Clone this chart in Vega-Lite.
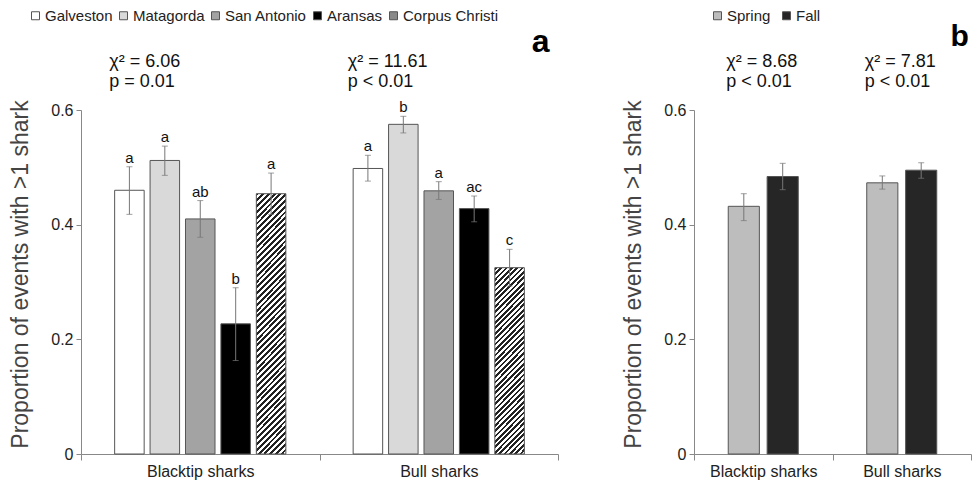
{
  "$schema": "https://vega.github.io/schema/vega-lite/v6.json",
  "padding": {"left": 9, "top": 8, "right": 0, "bottom": 2},
  "background": "white",
  "config": {
    "font": "Liberation Sans",
    "view": {"stroke": null},
    "axis": {"grid": false, "domainColor": "#888", "tickColor": "#888", "labelColor": "#222", "titleColor": "#444", "labelFontSize": 16, "titleFontSize": 23, "titleFontWeight": "normal"},
    "legend": {"orient": "none", "direction": "horizontal", "symbolType": "square", "symbolSize": 64, "symbolStrokeColor": "#555", "symbolStrokeWidth": 1, "labelFontSize": 15, "labelColor": "#222", "labelOffset": 2, "padding": 0}
  },
  "datasets": {
    "bays": [
      {"species": "Blacktip sharks", "bay": "Galveston", "value": 0.460, "lo": 0.418, "hi": 0.501, "letter": "a"},
      {"species": "Blacktip sharks", "bay": "Matagorda", "value": 0.512, "lo": 0.486, "hi": 0.537, "letter": "a"},
      {"species": "Blacktip sharks", "bay": "San Antonio", "value": 0.410, "lo": 0.378, "hi": 0.442, "letter": "ab"},
      {"species": "Blacktip sharks", "bay": "Aransas", "value": 0.227, "lo": 0.163, "hi": 0.290, "letter": "b"},
      {"species": "Blacktip sharks", "bay": "Corpus Christi", "value": 0.454, "lo": 0.418, "hi": 0.490, "letter": "a"},
      {"species": "Bull sharks", "bay": "Galveston", "value": 0.498, "lo": 0.476, "hi": 0.521, "letter": "a"},
      {"species": "Bull sharks", "bay": "Matagorda", "value": 0.575, "lo": 0.560, "hi": 0.589, "letter": "b"},
      {"species": "Bull sharks", "bay": "San Antonio", "value": 0.459, "lo": 0.444, "hi": 0.475, "letter": "a"},
      {"species": "Bull sharks", "bay": "Aransas", "value": 0.428, "lo": 0.405, "hi": 0.450, "letter": "ac"},
      {"species": "Bull sharks", "bay": "Corpus Christi", "value": 0.325, "lo": 0.293, "hi": 0.357, "letter": "c"}
    ],
    "seasons": [
      {"species": "Blacktip sharks", "season": "Spring", "value": 0.432, "lo": 0.407, "hi": 0.454},
      {"species": "Blacktip sharks", "season": "Fall", "value": 0.484, "lo": 0.461, "hi": 0.507},
      {"species": "Bull sharks", "season": "Spring", "value": 0.473, "lo": 0.462, "hi": 0.485},
      {"species": "Bull sharks", "season": "Fall", "value": 0.495, "lo": 0.481, "hi": 0.508}
    ],
    "stats": [
      {"panel": "a", "species": "Blacktip sharks", "label": "χ² = 6.06\np = 0.01"},
      {"panel": "a", "species": "Bull sharks", "label": "χ² = 11.61\np < 0.01"},
      {"panel": "b", "species": "Blacktip sharks", "label": "χ² = 8.68\np < 0.01"},
      {"panel": "b", "species": "Bull sharks", "label": "χ² = 7.81\np < 0.01"}
    ],
    "panels": [
      {"panel": "a", "species": "Bull sharks"},
      {"panel": "b", "species": "Bull sharks"}
    ]
  },
  "spacing": 63,
  "resolve": {"scale": {"color": "independent", "x": "independent", "y": "independent", "xOffset": "independent"}, "legend": {"color": "independent"}},
  "hconcat": [
    {
      "width": 477,
      "height": 344,
      "layer": [
        {
          "data": {"name": "bays"},
          "mark": {"type": "bar", "stroke": "#555", "strokeWidth": 1},
          "encoding": {
            "x": {"field": "species", "type": "nominal", "sort": ["Blacktip sharks", "Bull sharks"], "scale": {"paddingInner": 0, "paddingOuter": 0}, "axis": {"title": null, "labelAngle": 0, "tickBand": "extent", "tickSize": 6, "labelPadding": 3}},
            "xOffset": {"field": "bay", "type": "nominal", "sort": ["Galveston", "Matagorda", "San Antonio", "Aransas", "Corpus Christi"], "scale": {"paddingInner": 0.167, "paddingOuter": 0.95}},
            "y": {"field": "value", "type": "quantitative", "scale": {"domain": [0, 0.6], "nice": false}, "axis": {"title": "Proportion of events with >1 shark", "values": [0, 0.2, 0.4, 0.6], "format": ".1~f", "tickSize": 5, "labelPadding": 3, "titlePadding": 18, "titleY": 164}},
            "color": {
              "condition": [
                {"test": "datum.bay === 'Corpus Christi' && datum.species === 'Blacktip sharks'", "value": {"gradient": "linear", "x1": 0, "y1": 0, "x2": 0.1268, "y2": 1.1007, "stops": [
                  {"offset":0,"color":"#222"},
                  {"offset":0.01,"color":"#222"},{"offset":0.01,"color":"#fff"},{"offset":0.02,"color":"#fff"},{"offset":0.02,"color":"#222"},
                  {"offset":0.03,"color":"#222"},{"offset":0.03,"color":"#fff"},{"offset":0.04,"color":"#fff"},{"offset":0.04,"color":"#222"},
                  {"offset":0.05,"color":"#222"},{"offset":0.05,"color":"#fff"},{"offset":0.06,"color":"#fff"},{"offset":0.06,"color":"#222"},
                  {"offset":0.07,"color":"#222"},{"offset":0.07,"color":"#fff"},{"offset":0.08,"color":"#fff"},{"offset":0.08,"color":"#222"},
                  {"offset":0.09,"color":"#222"},{"offset":0.09,"color":"#fff"},{"offset":0.1,"color":"#fff"},{"offset":0.1,"color":"#222"},
                  {"offset":0.11,"color":"#222"},{"offset":0.11,"color":"#fff"},{"offset":0.12,"color":"#fff"},{"offset":0.12,"color":"#222"},
                  {"offset":0.13,"color":"#222"},{"offset":0.13,"color":"#fff"},{"offset":0.14,"color":"#fff"},{"offset":0.14,"color":"#222"},
                  {"offset":0.15,"color":"#222"},{"offset":0.15,"color":"#fff"},{"offset":0.16,"color":"#fff"},{"offset":0.16,"color":"#222"},
                  {"offset":0.17,"color":"#222"},{"offset":0.17,"color":"#fff"},{"offset":0.18,"color":"#fff"},{"offset":0.18,"color":"#222"},
                  {"offset":0.19,"color":"#222"},{"offset":0.19,"color":"#fff"},{"offset":0.2,"color":"#fff"},{"offset":0.2,"color":"#222"},
                  {"offset":0.21,"color":"#222"},{"offset":0.21,"color":"#fff"},{"offset":0.22,"color":"#fff"},{"offset":0.22,"color":"#222"},
                  {"offset":0.23,"color":"#222"},{"offset":0.23,"color":"#fff"},{"offset":0.24,"color":"#fff"},{"offset":0.24,"color":"#222"},
                  {"offset":0.25,"color":"#222"},{"offset":0.25,"color":"#fff"},{"offset":0.26,"color":"#fff"},{"offset":0.26,"color":"#222"},
                  {"offset":0.27,"color":"#222"},{"offset":0.27,"color":"#fff"},{"offset":0.28,"color":"#fff"},{"offset":0.28,"color":"#222"},
                  {"offset":0.29,"color":"#222"},{"offset":0.29,"color":"#fff"},{"offset":0.3,"color":"#fff"},{"offset":0.3,"color":"#222"},
                  {"offset":0.31,"color":"#222"},{"offset":0.31,"color":"#fff"},{"offset":0.32,"color":"#fff"},{"offset":0.32,"color":"#222"},
                  {"offset":0.33,"color":"#222"},{"offset":0.33,"color":"#fff"},{"offset":0.34,"color":"#fff"},{"offset":0.34,"color":"#222"},
                  {"offset":0.35,"color":"#222"},{"offset":0.35,"color":"#fff"},{"offset":0.36,"color":"#fff"},{"offset":0.36,"color":"#222"},
                  {"offset":0.37,"color":"#222"},{"offset":0.37,"color":"#fff"},{"offset":0.38,"color":"#fff"},{"offset":0.38,"color":"#222"},
                  {"offset":0.39,"color":"#222"},{"offset":0.39,"color":"#fff"},{"offset":0.4,"color":"#fff"},{"offset":0.4,"color":"#222"},
                  {"offset":0.41,"color":"#222"},{"offset":0.41,"color":"#fff"},{"offset":0.42,"color":"#fff"},{"offset":0.42,"color":"#222"},
                  {"offset":0.43,"color":"#222"},{"offset":0.43,"color":"#fff"},{"offset":0.44,"color":"#fff"},{"offset":0.44,"color":"#222"},
                  {"offset":0.45,"color":"#222"},{"offset":0.45,"color":"#fff"},{"offset":0.46,"color":"#fff"},{"offset":0.46,"color":"#222"},
                  {"offset":0.47,"color":"#222"},{"offset":0.47,"color":"#fff"},{"offset":0.48,"color":"#fff"},{"offset":0.48,"color":"#222"},
                  {"offset":0.49,"color":"#222"},{"offset":0.49,"color":"#fff"},{"offset":0.5,"color":"#fff"},{"offset":0.5,"color":"#222"},
                  {"offset":0.51,"color":"#222"},{"offset":0.51,"color":"#fff"},{"offset":0.52,"color":"#fff"},{"offset":0.52,"color":"#222"},
                  {"offset":0.53,"color":"#222"},{"offset":0.53,"color":"#fff"},{"offset":0.54,"color":"#fff"},{"offset":0.54,"color":"#222"},
                  {"offset":0.55,"color":"#222"},{"offset":0.55,"color":"#fff"},{"offset":0.56,"color":"#fff"},{"offset":0.56,"color":"#222"},
                  {"offset":0.57,"color":"#222"},{"offset":0.57,"color":"#fff"},{"offset":0.58,"color":"#fff"},{"offset":0.58,"color":"#222"},
                  {"offset":0.59,"color":"#222"},{"offset":0.59,"color":"#fff"},{"offset":0.6,"color":"#fff"},{"offset":0.6,"color":"#222"},
                  {"offset":0.61,"color":"#222"},{"offset":0.61,"color":"#fff"},{"offset":0.62,"color":"#fff"},{"offset":0.62,"color":"#222"},
                  {"offset":0.63,"color":"#222"},{"offset":0.63,"color":"#fff"},{"offset":0.64,"color":"#fff"},{"offset":0.64,"color":"#222"},
                  {"offset":0.65,"color":"#222"},{"offset":0.65,"color":"#fff"},{"offset":0.66,"color":"#fff"},{"offset":0.66,"color":"#222"},
                  {"offset":0.67,"color":"#222"},{"offset":0.67,"color":"#fff"},{"offset":0.68,"color":"#fff"},{"offset":0.68,"color":"#222"},
                  {"offset":0.69,"color":"#222"},{"offset":0.69,"color":"#fff"},{"offset":0.7,"color":"#fff"},{"offset":0.7,"color":"#222"},
                  {"offset":0.71,"color":"#222"},{"offset":0.71,"color":"#fff"},{"offset":0.72,"color":"#fff"},{"offset":0.72,"color":"#222"},
                  {"offset":0.73,"color":"#222"},{"offset":0.73,"color":"#fff"},{"offset":0.74,"color":"#fff"},{"offset":0.74,"color":"#222"},
                  {"offset":0.75,"color":"#222"},{"offset":0.75,"color":"#fff"},{"offset":0.76,"color":"#fff"},{"offset":0.76,"color":"#222"},
                  {"offset":0.77,"color":"#222"},{"offset":0.77,"color":"#fff"},{"offset":0.78,"color":"#fff"},{"offset":0.78,"color":"#222"},
                  {"offset":0.79,"color":"#222"},{"offset":0.79,"color":"#fff"},{"offset":0.8,"color":"#fff"},{"offset":0.8,"color":"#222"},
                  {"offset":0.81,"color":"#222"},{"offset":0.81,"color":"#fff"},{"offset":0.82,"color":"#fff"},{"offset":0.82,"color":"#222"},
                  {"offset":0.83,"color":"#222"},{"offset":0.83,"color":"#fff"},{"offset":0.84,"color":"#fff"},{"offset":0.84,"color":"#222"},
                  {"offset":0.85,"color":"#222"},{"offset":0.85,"color":"#fff"},{"offset":0.86,"color":"#fff"},{"offset":0.86,"color":"#222"},
                  {"offset":0.87,"color":"#222"},{"offset":0.87,"color":"#fff"},{"offset":0.88,"color":"#fff"},{"offset":0.88,"color":"#222"},
                  {"offset":0.89,"color":"#222"},{"offset":0.89,"color":"#fff"},{"offset":0.9,"color":"#fff"},{"offset":0.9,"color":"#222"},
                  {"offset":0.91,"color":"#222"},{"offset":0.91,"color":"#fff"},{"offset":0.92,"color":"#fff"},{"offset":0.92,"color":"#222"},
                  {"offset":0.93,"color":"#222"},{"offset":0.93,"color":"#fff"},{"offset":0.94,"color":"#fff"},{"offset":0.94,"color":"#222"},
                  {"offset":0.95,"color":"#222"},{"offset":0.95,"color":"#fff"},{"offset":0.96,"color":"#fff"},{"offset":0.96,"color":"#222"},
                  {"offset":0.97,"color":"#222"},{"offset":0.97,"color":"#fff"},{"offset":0.98,"color":"#fff"},{"offset":0.98,"color":"#222"},
                  {"offset":0.99,"color":"#222"},{"offset":0.99,"color":"#fff"},{"offset":1,"color":"#fff"}
                ]}},
                {"test": "datum.bay === 'Corpus Christi' && datum.species === 'Bull sharks'", "value": {"gradient": "linear", "x1": 0, "y1": 0, "x2": 0.1822, "y2": 1.1318, "stops": [
                  {"offset":0,"color":"#222"},
                  {"offset":0.0125,"color":"#222"},{"offset":0.0125,"color":"#fff"},{"offset":0.025,"color":"#fff"},{"offset":0.025,"color":"#222"},
                  {"offset":0.0375,"color":"#222"},{"offset":0.0375,"color":"#fff"},{"offset":0.05,"color":"#fff"},{"offset":0.05,"color":"#222"},
                  {"offset":0.0625,"color":"#222"},{"offset":0.0625,"color":"#fff"},{"offset":0.075,"color":"#fff"},{"offset":0.075,"color":"#222"},
                  {"offset":0.0875,"color":"#222"},{"offset":0.0875,"color":"#fff"},{"offset":0.1,"color":"#fff"},{"offset":0.1,"color":"#222"},
                  {"offset":0.1125,"color":"#222"},{"offset":0.1125,"color":"#fff"},{"offset":0.125,"color":"#fff"},{"offset":0.125,"color":"#222"},
                  {"offset":0.1375,"color":"#222"},{"offset":0.1375,"color":"#fff"},{"offset":0.15,"color":"#fff"},{"offset":0.15,"color":"#222"},
                  {"offset":0.1625,"color":"#222"},{"offset":0.1625,"color":"#fff"},{"offset":0.175,"color":"#fff"},{"offset":0.175,"color":"#222"},
                  {"offset":0.1875,"color":"#222"},{"offset":0.1875,"color":"#fff"},{"offset":0.2,"color":"#fff"},{"offset":0.2,"color":"#222"},
                  {"offset":0.2125,"color":"#222"},{"offset":0.2125,"color":"#fff"},{"offset":0.225,"color":"#fff"},{"offset":0.225,"color":"#222"},
                  {"offset":0.2375,"color":"#222"},{"offset":0.2375,"color":"#fff"},{"offset":0.25,"color":"#fff"},{"offset":0.25,"color":"#222"},
                  {"offset":0.2625,"color":"#222"},{"offset":0.2625,"color":"#fff"},{"offset":0.275,"color":"#fff"},{"offset":0.275,"color":"#222"},
                  {"offset":0.2875,"color":"#222"},{"offset":0.2875,"color":"#fff"},{"offset":0.3,"color":"#fff"},{"offset":0.3,"color":"#222"},
                  {"offset":0.3125,"color":"#222"},{"offset":0.3125,"color":"#fff"},{"offset":0.325,"color":"#fff"},{"offset":0.325,"color":"#222"},
                  {"offset":0.3375,"color":"#222"},{"offset":0.3375,"color":"#fff"},{"offset":0.35,"color":"#fff"},{"offset":0.35,"color":"#222"},
                  {"offset":0.3625,"color":"#222"},{"offset":0.3625,"color":"#fff"},{"offset":0.375,"color":"#fff"},{"offset":0.375,"color":"#222"},
                  {"offset":0.3875,"color":"#222"},{"offset":0.3875,"color":"#fff"},{"offset":0.4,"color":"#fff"},{"offset":0.4,"color":"#222"},
                  {"offset":0.4125,"color":"#222"},{"offset":0.4125,"color":"#fff"},{"offset":0.425,"color":"#fff"},{"offset":0.425,"color":"#222"},
                  {"offset":0.4375,"color":"#222"},{"offset":0.4375,"color":"#fff"},{"offset":0.45,"color":"#fff"},{"offset":0.45,"color":"#222"},
                  {"offset":0.4625,"color":"#222"},{"offset":0.4625,"color":"#fff"},{"offset":0.475,"color":"#fff"},{"offset":0.475,"color":"#222"},
                  {"offset":0.4875,"color":"#222"},{"offset":0.4875,"color":"#fff"},{"offset":0.5,"color":"#fff"},{"offset":0.5,"color":"#222"},
                  {"offset":0.5125,"color":"#222"},{"offset":0.5125,"color":"#fff"},{"offset":0.525,"color":"#fff"},{"offset":0.525,"color":"#222"},
                  {"offset":0.5375,"color":"#222"},{"offset":0.5375,"color":"#fff"},{"offset":0.55,"color":"#fff"},{"offset":0.55,"color":"#222"},
                  {"offset":0.5625,"color":"#222"},{"offset":0.5625,"color":"#fff"},{"offset":0.575,"color":"#fff"},{"offset":0.575,"color":"#222"},
                  {"offset":0.5875,"color":"#222"},{"offset":0.5875,"color":"#fff"},{"offset":0.6,"color":"#fff"},{"offset":0.6,"color":"#222"},
                  {"offset":0.6125,"color":"#222"},{"offset":0.6125,"color":"#fff"},{"offset":0.625,"color":"#fff"},{"offset":0.625,"color":"#222"},
                  {"offset":0.6375,"color":"#222"},{"offset":0.6375,"color":"#fff"},{"offset":0.65,"color":"#fff"},{"offset":0.65,"color":"#222"},
                  {"offset":0.6625,"color":"#222"},{"offset":0.6625,"color":"#fff"},{"offset":0.675,"color":"#fff"},{"offset":0.675,"color":"#222"},
                  {"offset":0.6875,"color":"#222"},{"offset":0.6875,"color":"#fff"},{"offset":0.7,"color":"#fff"},{"offset":0.7,"color":"#222"},
                  {"offset":0.7125,"color":"#222"},{"offset":0.7125,"color":"#fff"},{"offset":0.725,"color":"#fff"},{"offset":0.725,"color":"#222"},
                  {"offset":0.7375,"color":"#222"},{"offset":0.7375,"color":"#fff"},{"offset":0.75,"color":"#fff"},{"offset":0.75,"color":"#222"},
                  {"offset":0.7625,"color":"#222"},{"offset":0.7625,"color":"#fff"},{"offset":0.775,"color":"#fff"},{"offset":0.775,"color":"#222"},
                  {"offset":0.7875,"color":"#222"},{"offset":0.7875,"color":"#fff"},{"offset":0.8,"color":"#fff"},{"offset":0.8,"color":"#222"},
                  {"offset":0.8125,"color":"#222"},{"offset":0.8125,"color":"#fff"},{"offset":0.825,"color":"#fff"},{"offset":0.825,"color":"#222"},
                  {"offset":0.8375,"color":"#222"},{"offset":0.8375,"color":"#fff"},{"offset":0.85,"color":"#fff"},{"offset":0.85,"color":"#222"},
                  {"offset":0.8625,"color":"#222"},{"offset":0.8625,"color":"#fff"},{"offset":0.875,"color":"#fff"},{"offset":0.875,"color":"#222"},
                  {"offset":0.8875,"color":"#222"},{"offset":0.8875,"color":"#fff"},{"offset":0.9,"color":"#fff"},{"offset":0.9,"color":"#222"},
                  {"offset":0.9125,"color":"#222"},{"offset":0.9125,"color":"#fff"},{"offset":0.925,"color":"#fff"},{"offset":0.925,"color":"#222"},
                  {"offset":0.9375,"color":"#222"},{"offset":0.9375,"color":"#fff"},{"offset":0.95,"color":"#fff"},{"offset":0.95,"color":"#222"},
                  {"offset":0.9625,"color":"#222"},{"offset":0.9625,"color":"#fff"},{"offset":0.975,"color":"#fff"},{"offset":0.975,"color":"#222"},
                  {"offset":0.9875,"color":"#222"},{"offset":0.9875,"color":"#fff"},{"offset":1,"color":"#fff"}
                ]}}
              ],
              "field": "bay", "type": "nominal",
              "scale": {"domain": ["Galveston", "Matagorda", "San Antonio", "Aransas", "Corpus Christi"], "range": ["#ffffff", "#d9d9d9", "#a3a3a3", "#000000", "#8a8a8a"]},
              "legend": {"title": null, "legendX": -53, "legendY": -102, "columnPadding": 3}
            }
          }
        },
        {
          "data": {"name": "bays"},
          "mark": {"type": "rule", "color": "#777", "strokeWidth": 1},
          "encoding": {
            "x": {"field": "species", "type": "nominal", "sort": ["Blacktip sharks", "Bull sharks"]},
            "xOffset": {"field": "bay", "type": "nominal", "sort": ["Galveston", "Matagorda", "San Antonio", "Aransas", "Corpus Christi"]},
            "y": {"field": "lo", "type": "quantitative"},
            "y2": {"field": "hi"}
          }
        },
        {
          "data": {"name": "bays"},
          "mark": {"type": "tick", "color": "#777", "size": 6, "thickness": 1, "orient": "horizontal"},
          "encoding": {
            "x": {"field": "species", "type": "nominal", "sort": ["Blacktip sharks", "Bull sharks"]},
            "xOffset": {"field": "bay", "type": "nominal", "sort": ["Galveston", "Matagorda", "San Antonio", "Aransas", "Corpus Christi"]},
            "y": {"field": "lo", "type": "quantitative"}
          }
        },
        {
          "data": {"name": "bays"},
          "mark": {"type": "tick", "color": "#777", "size": 6, "thickness": 1, "orient": "horizontal"},
          "encoding": {
            "x": {"field": "species", "type": "nominal", "sort": ["Blacktip sharks", "Bull sharks"]},
            "xOffset": {"field": "bay", "type": "nominal", "sort": ["Galveston", "Matagorda", "San Antonio", "Aransas", "Corpus Christi"]},
            "y": {"field": "hi", "type": "quantitative"}
          }
        },
        {
          "data": {"name": "bays"},
          "mark": {"type": "text", "fontSize": 15, "dy": -4, "baseline": "alphabetic", "color": "#111"},
          "encoding": {
            "x": {"field": "species", "type": "nominal", "sort": ["Blacktip sharks", "Bull sharks"]},
            "xOffset": {"field": "bay", "type": "nominal", "sort": ["Galveston", "Matagorda", "San Antonio", "Aransas", "Corpus Christi"]},
            "y": {"field": "hi", "type": "quantitative"},
            "text": {"field": "letter", "type": "nominal"}
          }
        },
        {
          "data": {"name": "stats"},
          "transform": [{"filter": "datum.panel === 'a'"}],
          "mark": {"type": "text", "align": "left", "baseline": "alphabetic", "fontSize": 18, "lineBreak": "\n", "lineHeight": 20, "dx": -91, "color": "#111"},
          "encoding": {
            "x": {"field": "species", "type": "nominal", "sort": ["Blacktip sharks", "Bull sharks"]},
            "y": {"datum": 0.675, "type": "quantitative"},
            "text": {"field": "label", "type": "nominal"}
          }
        },
        {
          "data": {"name": "panels"},
          "transform": [{"filter": "datum.panel === 'a'"}],
          "mark": {"type": "text", "fontSize": 32, "fontWeight": "bold", "baseline": "alphabetic", "dx": 102, "color": "#000"},
          "encoding": {
            "x": {"field": "species", "type": "nominal", "sort": ["Blacktip sharks", "Bull sharks"]},
            "y": {"datum": 0.701, "type": "quantitative"},
            "text": {"field": "panel", "type": "nominal"}
          }
        }
      ]
    },
    {
      "width": 277,
      "height": 344,
      "layer": [
        {
          "data": {"name": "seasons"},
          "mark": {"type": "bar", "stroke": "#555", "strokeWidth": 1},
          "encoding": {
            "x": {"field": "species", "type": "nominal", "sort": ["Blacktip sharks", "Bull sharks"], "scale": {"paddingInner": 0, "paddingOuter": 0}, "axis": {"title": null, "labelAngle": 0, "tickBand": "extent", "tickSize": 6, "labelPadding": 3}},
            "xOffset": {"field": "season", "type": "nominal", "sort": ["Spring", "Fall"], "scale": {"paddingInner": 0.2, "paddingOuter": 0.88}},
            "y": {"field": "value", "type": "quantitative", "scale": {"domain": [0, 0.6], "nice": false}, "axis": {"title": "Proportion of events with >1 shark", "values": [0, 0.2, 0.4, 0.6], "format": ".1~f", "tickSize": 5, "labelPadding": 3, "titlePadding": 18, "titleY": 164}},
            "color": {
              "field": "season", "type": "nominal",
              "scale": {"domain": ["Spring", "Fall"], "range": ["#bdbdbd", "#262626"]},
              "legend": {"title": null, "legendX": 16, "legendY": -102, "columnPadding": 8}
            }
          }
        },
        {
          "data": {"name": "seasons"},
          "mark": {"type": "rule", "color": "#777", "strokeWidth": 1},
          "encoding": {
            "x": {"field": "species", "type": "nominal", "sort": ["Blacktip sharks", "Bull sharks"]},
            "xOffset": {"field": "season", "type": "nominal", "sort": ["Spring", "Fall"]},
            "y": {"field": "lo", "type": "quantitative"},
            "y2": {"field": "hi"}
          }
        },
        {
          "data": {"name": "seasons"},
          "mark": {"type": "tick", "color": "#777", "size": 6, "thickness": 1, "orient": "horizontal"},
          "encoding": {
            "x": {"field": "species", "type": "nominal", "sort": ["Blacktip sharks", "Bull sharks"]},
            "xOffset": {"field": "season", "type": "nominal", "sort": ["Spring", "Fall"]},
            "y": {"field": "lo", "type": "quantitative"}
          }
        },
        {
          "data": {"name": "seasons"},
          "mark": {"type": "tick", "color": "#777", "size": 6, "thickness": 1, "orient": "horizontal"},
          "encoding": {
            "x": {"field": "species", "type": "nominal", "sort": ["Blacktip sharks", "Bull sharks"]},
            "xOffset": {"field": "season", "type": "nominal", "sort": ["Spring", "Fall"]},
            "y": {"field": "hi", "type": "quantitative"}
          }
        },
        {
          "data": {"name": "stats"},
          "transform": [{"filter": "datum.panel === 'b'"}],
          "mark": {"type": "text", "align": "left", "baseline": "alphabetic", "fontSize": 18, "lineBreak": "\n", "lineHeight": 20, "dx": -37, "color": "#111"},
          "encoding": {
            "x": {"field": "species", "type": "nominal", "sort": ["Blacktip sharks", "Bull sharks"]},
            "y": {"datum": 0.675, "type": "quantitative"},
            "text": {"field": "label", "type": "nominal"}
          }
        },
        {
          "data": {"name": "panels"},
          "transform": [{"filter": "datum.panel === 'b'"}],
          "mark": {"type": "text", "fontSize": 30, "fontWeight": "bold", "baseline": "alphabetic", "dx": 58, "color": "#000"},
          "encoding": {
            "x": {"field": "species", "type": "nominal", "sort": ["Blacktip sharks", "Bull sharks"]},
            "y": {"datum": 0.712, "type": "quantitative"},
            "text": {"field": "panel", "type": "nominal"}
          }
        }
      ]
    }
  ]
}
